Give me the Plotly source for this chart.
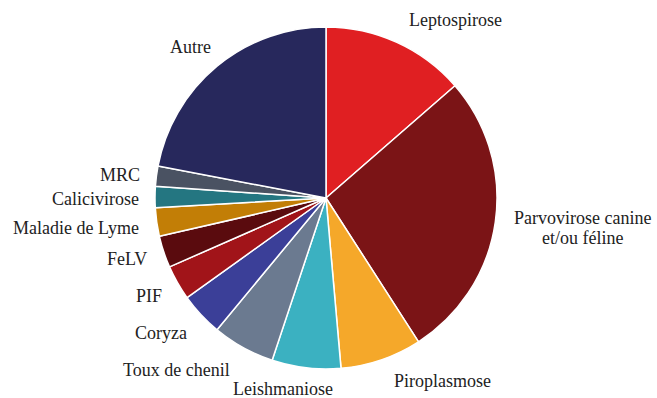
import plotly.graph_objects as go

labels = ["Leptospirose", "Parvovirose canine<br>et/ou féline", "Piroplasmose", "Leishmaniose",
          "Toux de chenil", "Coryza", "PIF", "FeLV", "Maladie de Lyme", "Calicivirose", "MRC", "Autre"]
values = [13.6, 27.3, 7.7, 6.5, 5.9, 4.1, 3.3, 3.0, 2.7, 2.0, 1.9, 22.0]
colors = ["#E01F22", "#7B1416", "#F5A82A", "#3BB1C1", "#6B7A90", "#3B3F98", "#A11419",
          "#5A0B0E", "#C27E06", "#247681", "#4A5262", "#27285C"]

W, H = 657, 398
cx, cy, r = 326, 198, 171

fig = go.Figure(go.Pie(
    labels=labels, values=values, sort=False, direction="clockwise", rotation=0,
    marker=dict(colors=colors, line=dict(color="white", width=1.5)),
    textinfo="none", hoverinfo="label+percent", showlegend=False,
    domain=dict(x=[(cx - r) / W, (cx + r) / W], y=[(H - cy - r) / H, (H - cy + r) / H]),
))

# label anchor points (pixels): centre of the first line
label_pos = [
    (455, 20), (582, 218), (442, 381), (283, 389),
    (176, 370), (161, 333), (149, 296), (127, 259),
    (76, 228), (95, 199), (120, 175), (190, 47),
]
line_gap = 20
FONT = dict(family="Liberation Serif", size=18, color="#222")
anns = []
for lab, (x, y) in zip(labels, label_pos):
    for i, part in enumerate(lab.split("<br>")):
        yy = y + i * line_gap
        anns.append(dict(x=x / W, y=1 - yy / H, xref="paper", yref="paper", text=part,
                         showarrow=False, xanchor="center", yanchor="middle", align="center",
                         font=FONT))

fig.update_layout(width=W, height=H, margin=dict(l=0, r=0, t=0, b=0),
                  font=dict(family="Liberation Serif"),
                  paper_bgcolor="white", plot_bgcolor="white", annotations=anns)
fig.write_html("out.html")
